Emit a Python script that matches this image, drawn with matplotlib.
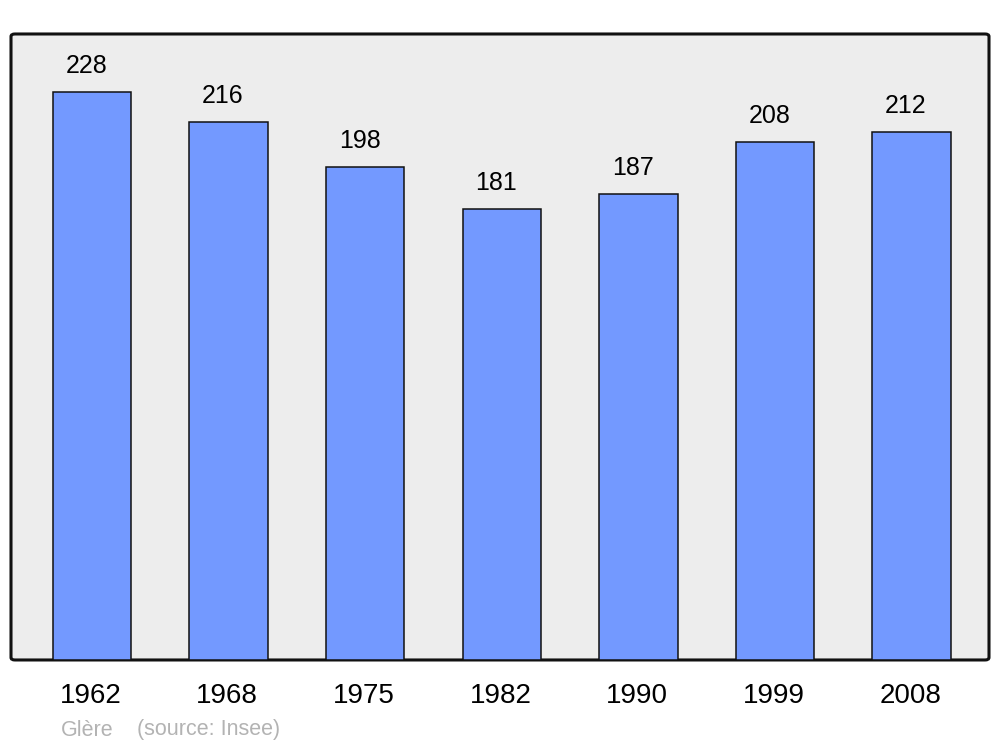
import matplotlib.pyplot as plt
from matplotlib.patches import FancyBboxPatch

plt.rcParams['font.family'] = ['Liberation Sans', 'DejaVu Sans']

years = ['1962', '1968', '1975', '1982', '1990', '1999', '2008']
population = [228, 216, 198, 181, 187, 208, 212]

fig = plt.figure(figsize=(10, 7.47), dpi=100)
ax = fig.add_axes([0.011, 0.1165, 0.978, 0.838])
ax.set_facecolor('none')

# rounded grey frame behind the bars
frame = FancyBboxPatch((0, 0), 1, 1, boxstyle='round,pad=0,rounding_size=0.004',
                       transform=ax.transAxes, facecolor='#ededed',
                       edgecolor='#111111', linewidth=2.2, zorder=0, clip_on=False)
ax.add_patch(frame)

x = range(len(years))
ax.bar(x, population, width=0.575, color='#7399ff', edgecolor='#111111',
       linewidth=1.1, zorder=2)

for i, v in enumerate(population):
    ax.annotate(str(v), xy=(i, v), xytext=(-4, 19), textcoords='offset points',
                ha='center', va='center', fontsize=18, color='black')
    ax.annotate(years[i], xy=(i, 0), xycoords=('data', 'axes fraction'),
                xytext=(-1, -26), textcoords='offset points',
                ha='center', va='center', fontsize=20, color='black')

ax.set_xlim(-0.593, 6.567)
ax.set_ylim(0, 251.4)
ax.set_xticks([])
ax.set_yticks([])
for s in ax.spines.values():
    s.set_visible(False)

fig.text(0.061, 1 - 730 / 747, 'Glère', fontsize=15.5, color='#b3b3b3', va='center')
fig.text(0.137, 1 - 730 / 747, '(source: Insee)', fontsize=15.5, color='#b3b3b3', va='center')

plt.savefig('out.png', dpi=100)
